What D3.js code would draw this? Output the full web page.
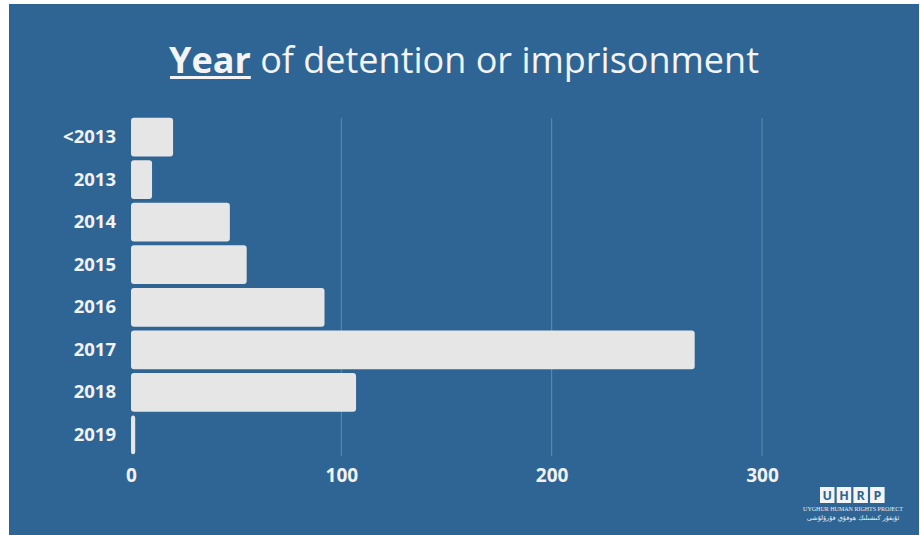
<!DOCTYPE html>
<html><head><meta charset="utf-8">
<script src="https://cdn.jsdelivr.net/npm/d3@7"></script>
<style>html,body{margin:0;padding:0;background:#fff;}svg{display:block;}</style>
</head><body>
<svg id="c" width="920" height="535"></svg>
<script>
const categories = ["<2013","2013","2014","2015","2016","2017","2018","2019"];
const values = [20, 10, 47, 55, 92, 268, 107, 2];
const xTicks = [0, 100, 200, 300];
const titleBold = "Year";
const titleRest = " of detention or imprisonment";

const svg = d3.select("#c");
svg.append("rect").attr("x",9).attr("y",4).attr("width",910).attr("height",531).attr("fill","#2f6594");

const x = d3.scaleLinear().domain([0,300]).range([131,762]);
const y = d3.scaleBand().domain(categories).range([116,456]).paddingInner(0.09).paddingOuter(0.04);

// grid
svg.append("g").selectAll("line").data(xTicks.filter(d=>d>0)).join("line")
  .attr("x1",d=>x(d)).attr("x2",d=>x(d)).attr("y1",118).attr("y2",456)
  .attr("stroke","#5f8bb3").attr("stroke-width",1);

// bars
svg.append("g").selectAll("rect").data(values).join("rect")
  .attr("x",x(0)).attr("y",(d,i)=>y(categories[i]))
  .attr("width",d=>Math.max(3,x(d)-x(0))).attr("height",y.bandwidth())
  .attr("rx",3).attr("fill","#e6e6e6");

// y labels
const yAxis = d3.axisLeft(y).tickSize(0).tickPadding(0);
const gy = svg.append("g").attr("transform","translate(116,0)").call(yAxis);
gy.select(".domain").remove();
gy.selectAll("text").attr("fill","#f2f2f2").attr("font-family","'Open Sans',sans-serif")
  .attr("font-weight","bold").attr("font-size","18.5px");

// x labels
const xAxis = d3.axisBottom(x).tickValues(xTicks).tickSize(0).tickPadding(0).tickFormat(d3.format("d"));
const gx = svg.append("g").attr("transform","translate(0,468)").call(xAxis);
gx.select(".domain").remove();
gx.selectAll("text").attr("fill","#f2f2f2").attr("font-family","'Open Sans',sans-serif")
  .attr("font-weight","bold").attr("font-size","19px");

// title
const t = svg.append("text").attr("x",464).attr("y",73).attr("text-anchor","middle")
  .attr("font-family","'Open Sans',sans-serif").attr("font-size","36px").attr("fill","#f4f4f4");
const tb = t.append("tspan").attr("font-weight","bold").text(titleBold);
t.append("tspan").text(titleRest);
const bb = tb.node().getBBox();
svg.append("rect").attr("x",bb.x+1).attr("y",76).attr("width",bb.width-1).attr("height",3).attr("fill","#f4f4f4");

// logo
const letters = ["U","H","R","P"];
const lg = svg.append("g");
letters.forEach((l,i)=>{
  lg.append("rect").attr("x",820+i*16.7).attr("y",487).attr("width",14.5).attr("height",16).attr("fill","#f4f4f4");
  lg.append("text").attr("x",827.25+i*16.7).attr("y",500).attr("text-anchor","middle")
    .attr("font-family","'Open Sans',sans-serif").attr("font-weight","bold").attr("font-size","12.5px")
    .attr("fill","#2f6594").text(l);
});
lg.append("text").attr("x",853).attr("y",511).attr("text-anchor","middle")
  .attr("font-family","'Liberation Serif',serif").attr("font-size","6px").attr("fill","#e8eef5")
  .text("UYGHUR HUMAN RIGHTS PROJECT");
lg.append("text").attr("x",853).attr("y",520).attr("text-anchor","middle")
  .attr("font-family","'DejaVu Sans',sans-serif").attr("font-size","6.5px").attr("fill","#e8eef5")
  .text("ئۇيغۇر كىشىلىك ھوقۇق قۇرۇلۇشى");
</script>
</body></html>
